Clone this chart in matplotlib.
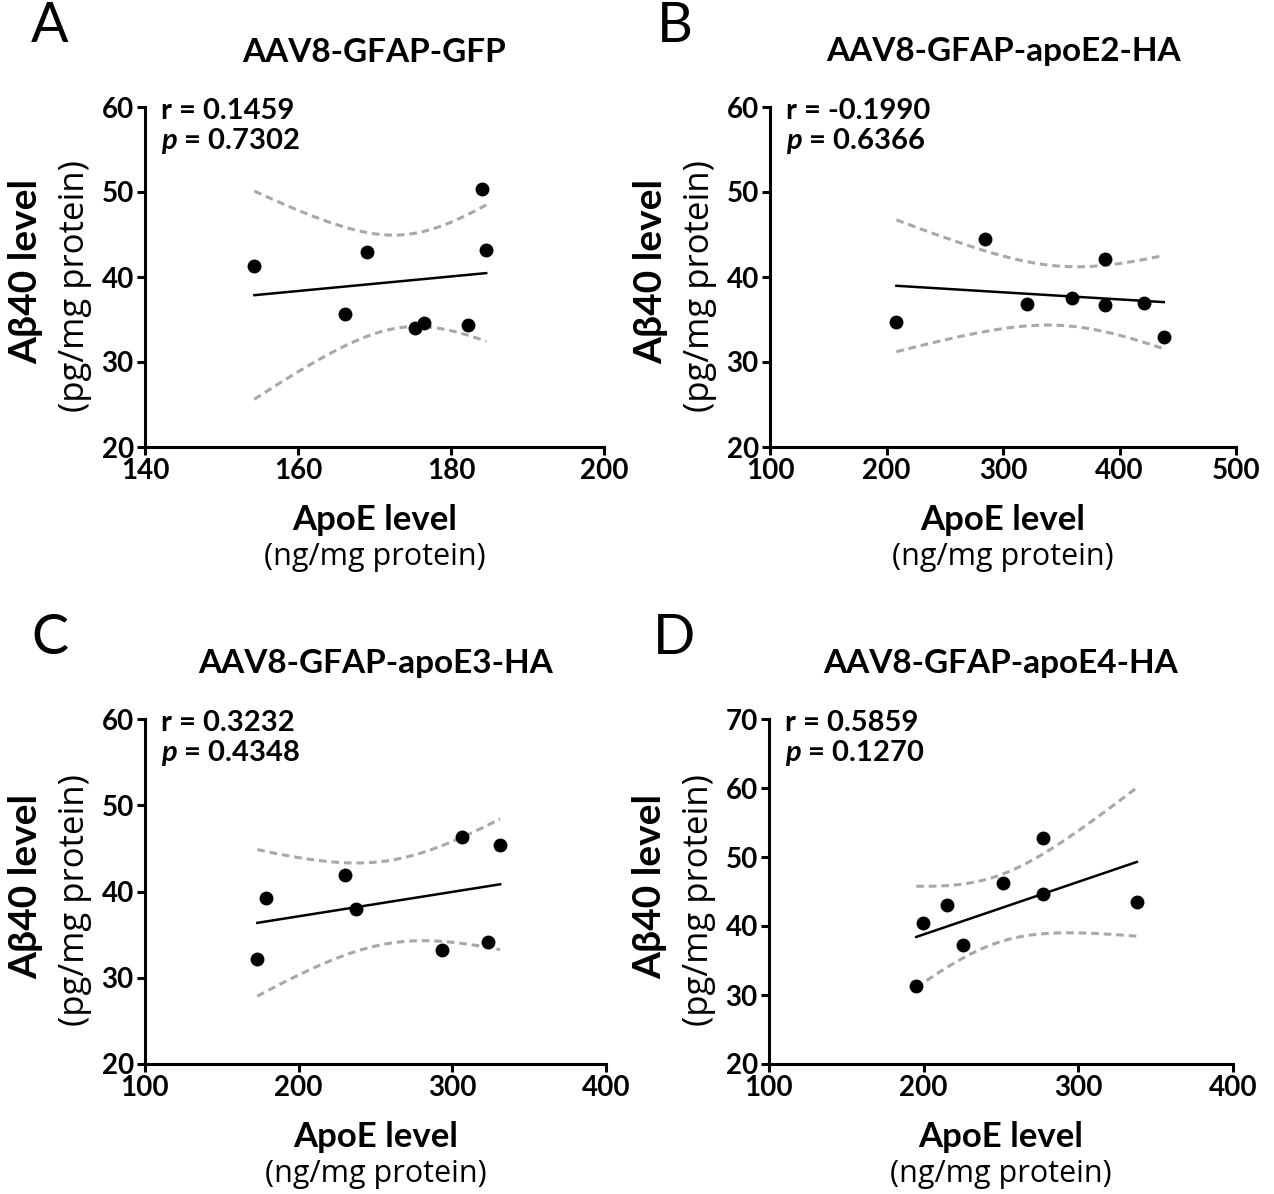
import numpy as np
import matplotlib
matplotlib.use('Agg')
import matplotlib.pyplot as plt

plt.rcParams['font.family'] = ['Lato', 'Open Sans', 'DejaVu Sans']
plt.rcParams['mathtext.fontset'] = 'custom'
plt.rcParams['mathtext.it'] = 'Lato:italic:bold'
plt.rcParams['mathtext.rm'] = 'Lato:bold'

W, H = 1274, 1194
UNIT_FONT = ['Open Sans', 'DejaVu Sans']

# values
titles = ['AAV8-GFAP-GFP', 'AAV8-GFAP-apoE2-HA', 'AAV8-GFAP-apoE3-HA', 'AAV8-GFAP-apoE4-HA']
letters = ['A', 'B', 'C', 'D']
apoe_a = [154.3, 166.1, 169.0, 175.3, 176.5, 182.2, 184.0, 184.6]
ab40_a = [41.3, 35.6, 42.9, 34.0, 34.6, 34.4, 50.4, 43.2]
apoe_b = [208.5, 284.7, 320.9, 358.8, 387.3, 387.7, 421.0, 438.0]
ab40_b = [34.7, 44.5, 36.8, 37.5, 42.1, 36.7, 37.0, 32.9]
apoe_c = [173.1, 178.9, 230.0, 237.4, 293.5, 306.0, 323.2, 331.1]
ab40_c = [32.2, 39.3, 41.9, 38.0, 33.2, 46.3, 34.1, 45.4]
apoe_d = [195.2, 199.4, 215.3, 225.2, 251.3, 276.9, 277.4, 337.9]
ab40_d = [31.3, 40.4, 43.1, 37.2, 46.2, 44.6, 52.8, 43.5]
r_vals = ['0.1459', '-0.1990', '0.3232', '0.5859']
p_vals = ['0.7302', '0.6366', '0.4348', '0.1270']
x_ticks = [[140, 160, 180, 200], [100, 200, 300, 400, 500],
           [100, 200, 300, 400], [100, 200, 300, 400]]
y_ticks = [[20, 30, 40, 50, 60], [20, 30, 40, 50, 60],
           [20, 30, 40, 50, 60], [20, 30, 40, 50, 60, 70]]

xs = [apoe_a, apoe_b, apoe_c, apoe_d]
ys = [ab40_a, ab40_b, ab40_c, ab40_d]

# axes boxes in pixels: left, top, right, bottom
boxes = [(145, 107, 604, 447), (770, 107, 1236, 447),
         (145, 719, 606, 1064), (769, 719, 1233, 1064)]

T_975_DF6 = 2.4469

fig = plt.figure(figsize=(W / 100, H / 100), dpi=100)


def fx(px):
    return px / W


def fy(py):
    return 1 - py / H


for i in range(4):
    l, t, r, b = boxes[i]
    ax = fig.add_axes([fx(l), fy(b), fx(r - l), (b - t) / H])
    x = np.array(xs[i])
    y = np.array(ys[i])

    # linear fit and 95% confidence band
    slope, icpt = np.polyfit(x, y, 1)
    xg = np.linspace(x.min(), x.max(), 100)
    yg = slope * xg + icpt
    n = len(x)
    resid = y - (slope * x + icpt)
    s = np.sqrt(np.sum(resid ** 2) / (n - 2))
    se = s * np.sqrt(1 / n + (xg - x.mean()) ** 2 / np.sum((x - x.mean()) ** 2))
    ax.plot(xg, yg, color='black', lw=1.8, zorder=2)
    ax.plot(xg, yg + T_975_DF6 * se, color='#a8a8a8', lw=2.2, ls=(0, (2.5, 1.6)), zorder=1)
    ax.plot(xg, yg - T_975_DF6 * se, color='#a8a8a8', lw=2.2, ls=(0, (2.5, 1.6)), zorder=1)
    ax.scatter(x, y, s=100, color='black', zorder=3, linewidths=0)

    ax.set_xlim(x_ticks[i][0], x_ticks[i][-1])
    ax.set_ylim(y_ticks[i][0], y_ticks[i][-1])
    ax.set_xticks(x_ticks[i])
    ax.set_yticks(y_ticks[i])
    for sp in ['top', 'right']:
        ax.spines[sp].set_visible(False)
    for sp in ['left', 'bottom']:
        ax.spines[sp].set_linewidth(2.2)
    ax.tick_params(direction='out', length=6, width=2.2, pad=2, labelsize=20)
    for lab in ax.get_xticklabels() + ax.get_yticklabels():
        lab.set_fontweight('bold')

    cx = (l + r) / 2
    cy = (t + b) / 2
    fig.text(fx(cx), fy(t - 55), titles[i], ha='center', va='center',
             fontsize=24, fontweight='bold')
    fig.text(fx(l - 95), fy(t - 80), letters[i], ha='center', va='center', fontsize=40)
    fig.text(fx(l - 119), fy(cy - 5), 'A\u03b240 level', rotation=90, ha='center',
             va='center', fontsize=28, fontweight='bold')
    fig.text(fx(l - 70), fy(cy + 9), '(pg/mg protein)', rotation=90, ha='center',
             va='center', fontsize=25, family=UNIT_FONT)
    fig.text(fx(cx), fy(b + 73), 'ApoE level', ha='center', va='center',
             fontsize=25, fontweight='bold')
    fig.text(fx(cx), fy(b + 110), '(ng/mg protein)', ha='center', va='center',
             fontsize=22, family=UNIT_FONT)
    fig.text(fx(l + 16), fy(t + 4), 'r = ' + r_vals[i], ha='left', va='center',
             fontsize=21, fontweight='bold')
    fig.text(fx(l + 16), fy(t + 34), '$p$ = ' + p_vals[i], ha='left', va='center',
             fontsize=21, fontweight='bold')

fig.savefig('out.png', dpi=100)
